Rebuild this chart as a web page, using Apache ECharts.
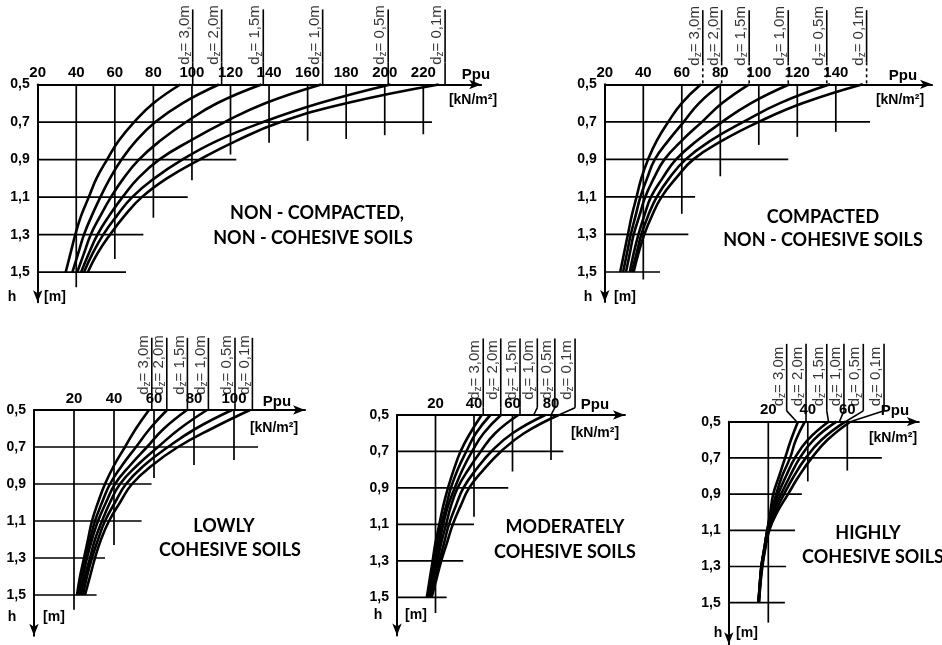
<!DOCTYPE html>
<html><head><meta charset="utf-8">
<script src="https://cdn.jsdelivr.net/npm/echarts@6/dist/echarts.min.js"></script>
<style>html,body{margin:0;padding:0;background:#fff}#c{width:942px;height:645px}</style>
</head><body><div id="c"></div>
<script>
// ---------------- DATA ----------------
const depths = [0.5, 0.6, 0.7, 0.8, 0.9, 1.0, 1.1, 1.2, 1.3, 1.4, 1.5];   // h [m]
const dzNames = ['3,0', '2,0', '1,5', '1,0', '0,5', '0,1'];                // d_z [m]

// Ppu [kN/m2] per curve (d_z = 3.0, 2.0, 1.5, 1.0, 0.5, 0.1) at the depths above
const ppuNonCompacted = [
  [94, 80, 70, 62, 56, 50.5, 46.5, 42.5, 39.5, 37, 34.5],
  [114, 95, 81, 71, 63.5, 57.5, 52.5, 48, 44, 41, 38],
  [136, 113, 97, 83.5, 72.5, 64.5, 58, 52.5, 47.5, 44, 40.5],
  [167, 138, 117, 99, 83, 72, 64, 57, 51, 46.5, 42.5],
  [203, 166, 137, 113, 95, 80.5, 69, 61, 54, 48.5, 44],
  [228, 180, 146, 123, 104, 87, 74, 65, 57.5, 51, 46]
];
const ppuCompacted = [
  [70, 60, 53, 47, 42.5, 39, 36.5, 34, 32, 30, 28],
  [80.5, 69, 61, 53, 46, 42, 38.5, 36, 33.5, 31.5, 29.5],
  [95, 81, 70.5, 60, 51, 45.5, 41, 38, 35, 33, 31],
  [116, 96, 81, 68, 57, 50, 44, 40.5, 37.5, 35, 33],
  [137, 111, 92, 75, 62, 53.5, 47, 42.5, 39, 36.5, 34],
  [154, 123, 100, 81, 66, 57, 49.5, 44.5, 40.5, 37.5, 35]
];
const ppuLowly = [
  [57.5, 51, 45.5, 40, 35.5, 32, 29, 27, 25, 23, 21.5],
  [66.5, 58, 51, 44, 38, 34, 30.5, 28, 25.5, 23.5, 22],
  [76.5, 65, 56.5, 48, 40.5, 36, 32, 29, 26.5, 24.5, 23],
  [86.5, 73, 62, 51.5, 43, 38, 34, 30.5, 28, 25.5, 23.5],
  [99, 81, 67, 55, 46, 40.5, 35.5, 32, 29, 26.5, 24.5],
  [108, 89, 72, 59, 49, 43, 37.5, 33.5, 30.5, 28, 25.5]
];
const ppuModerately = [
  [44, 38, 33, 29.5, 26.5, 24, 22, 20, 18.5, 17, 15.5],
  [48.5, 41, 36, 31.5, 28, 25.5, 23, 21, 19, 17.5, 16],
  [54, 45, 39, 34, 30, 26.5, 24, 22, 20, 18, 16.5],
  [63, 51, 43.5, 37, 31.5, 28, 25.5, 23, 21, 19, 17],
  [77, 60, 49, 41, 34.5, 30.5, 27, 24.5, 22, 19.5, 17.5],
  [84, 66, 54, 45, 37.5, 33, 29, 26, 23, 20.5, 18]
];
const ppuHighly = [
  [35, 31.5, 28.5, 25.5, 22.5, 21, 19.5, 18, 16.5, 15.7, 15],
  [38.5, 34, 31, 27, 24, 21.5, 19.5, 18, 16.5, 15.7, 15],
  [50.5, 40, 33.5, 29, 25, 22, 19.5, 18, 16.5, 15.7, 15],
  [54.5, 43, 36, 31, 26.5, 22.5, 20, 18.2, 16.7, 15.8, 15.1],
  [59, 47, 39, 33, 28, 23.5, 20, 18.3, 16.8, 15.9, 15.2],
  [61.5, 50, 42, 35.5, 30, 24.5, 20.5, 18.5, 17, 16, 15.3]
];

// first / last labelled Ppu tick per panel
const firstTick = [20, 20, 20, 20, 20];
const lastTick = [220, 140, 100, 80, 60];

// partial grid lines: vertical [Ppu, depth reached], horizontal [h, Ppu reached]
const vGrid = [
  [[40,1.58],[60,1.43],[80,1.21],[100,1.01],[120,0.873],[140,0.81],[160,0.80],[180,0.79],[200,0.77],[220,0.765]],
  [[40,1.54],[60,1.19],[80,0.99],[100,0.823],[120,0.78],[140,0.753]],
  [[20,1.58],[40,1.23],[60,0.868],[80,0.797],[100,0.77]],
  [[20,1.586],[40,1.058],[60,0.81],[80,0.747]],
  [[20,1.61],[40,0.83],[60,0.77]]
];
const hGrid = [
  [[0.7,224.5],[0.9,123],[1.1,97.8],[1.3,74.8],[1.5,65.8]],
  [[0.7,157.8],[0.9,115.3],[1.1,66.9],[1.3,63.4],[1.5,48.7]],
  [[0.7,112],[0.9,58.8],[1.1,53.8],[1.3,35.5],[1.5,31.3]],
  [[0.7,86.4],[0.9,57.8],[1.1,40],[1.3,34.4],[1.5,25.8]],
  [[0.7,77.5],[0.9,37],[1.1,33.5],[1.3,29],[1.5,28.4]]
];
// d_z leader lines: Ppu of the label line, Ppu where it meets the axis
const leaderX = [
  [100.4, 115.4, 137, 167.8, 201.8, 231.3],
  [70.9, 80.7, 95, 115.3, 135.3, 156],
  [58.9, 66.4, 76.7, 87.2, 100.5, 109.2],
  [44.8, 53.9, 63.9, 72.9, 82, 92.5],
  [29.3, 39.1, 49.6, 58.3, 68.1, 78.6]
];
const leaderFoot = [
  [100.4, 115.4, 137, 167.8, 201.8, 231.3],
  [70.9, 80.7, 95, 115.3, 135.3, 156],
  [58.9, 66.4, 76.7, 87.2, 100.5, 109.2],
  [44.8, 53.9, 63.9, 71, 80, 84],
  [34.4, 39.1, 50.5, 56, 59, 61.5]
];
const titles = [
  ['NON - COMPACTED,', 'NON - COHESIVE SOILS'],
  ['COMPACTED', 'NON - COHESIVE SOILS'],
  ['LOWLY', 'COHESIVE SOILS'],
  ['MODERATELY', 'COHESIVE SOILS'],
  ['HIGHLY', 'COHESIVE SOILS']
];
const panelData = [ppuNonCompacted, ppuCompacted, ppuLowly, ppuModerately, ppuHighly];

// ---------------- LAYOUT ----------------
const layout = [
  {left:37.7, top:84.5, xmin:20, xmax:250, pxX:1.928, ymax:1.66, pxY:187.7, top1:0.40, lab:0.264, bend:0.117, dashLow:false,
   title:[317,213,313,238], ppu:[476,75], kn:[473,100], h:[12,297], m:[55,297]},
  {left:604.8, top:84.3, xmin:20, xmax:190, pxX:1.925, ymax:1.66, pxY:187.7, top1:0.395, lab:0.258, bend:0.117, dashLow:true,
   title:[823,217,823,240], ppu:[903,76], kn:[900,100], h:[588,297], m:[625,297]},
  {left:34, top:410, xmin:0, xmax:135.5, pxX:2.0, ymax:1.72, pxY:185, top1:0.39, lab:0.243, bend:0.06, dashLow:false,
   title:[224,526,230,550], ppu:[277,402], kn:[274,428], h:[12,617], m:[54,617]},
  {left:397, top:415, xmin:0, xmax:118.4, pxX:1.925, ymax:1.71, pxY:182.3, top1:0.42, lab:0.247, bend:0.04, dashLow:false,
   title:[565,527,565,552], ppu:[595,405], kn:[595,433], h:[378,615], m:[416,615]},
  {left:728.8, top:421.7, xmin:0, xmax:96.2, pxX:1.975, ymax:1.73, pxY:181, top1:0.43, lab:0.25, bend:0.06, dashLow:false,
   title:[868,533,873,557], ppu:[895,411], kn:[893,438], h:[718,633], m:[747,633]}
];

const AXIS_FONT = '"Liberation Sans", Arial, sans-serif';
const TITLE_FONT = 'bold 18px Lato, "Open Sans", sans-serif';
const grids = [], xAxes = [], yAxes = [], series = [], graphics = [];

function txt(x, y, text, font) {
  return {type:'text', x, y, silent:true, style:{text, font, fill:'#000', textAlign:'center', textVerticalAlign:'middle'}};
}

layout.forEach((L, p) => {
  grids.push({left:L.left, top:L.top, width:(L.xmax-L.xmin)*L.pxX, height:(L.ymax-0.5)*L.pxY, containLabel:false});
  const lineStyle = {color:'#000', width:2};
  xAxes.push({
    gridIndex:p, type:'value', position:'top', min:L.xmin, max:L.xmax, interval:20,
    axisLine:{show:true, onZero:false, symbol:['none','arrow'], symbolSize:[7,12], lineStyle},
    axisTick:{show:false}, splitLine:{show:false},
    axisLabel:{margin:4, color:'#000', fontSize:15, fontWeight:'bold', fontFamily:AXIS_FONT,
      formatter:v => {const r = Math.round(v); return (Math.abs(v-r)<1e-6 && r%20===0 && r>=firstTick[p] && r<=lastTick[p]) ? String(r) : '';}}
  });
  yAxes.push({
    gridIndex:p, type:'value', inverse:true, min:0.5, max:L.ymax, interval:0.1,
    axisLine:{show:true, onZero:false, symbol:['arrow','none'], symbolSize:[7,12], lineStyle},
    axisTick:{show:false}, splitLine:{show:false},
    axisLabel:{margin:8, color:'#000', fontSize:14, fontWeight:'bold', fontFamily:AXIS_FONT,
      formatter:v => {const k = Math.round(v*10); if (Math.abs(v*10-k)>1e-6) return ''; return (k%2===1 && k<=15) ? (k/10).toFixed(1).replace('.', ',') : '';}}
  });
  // partial grid lines
  const gl = [];
  vGrid[p].forEach(([x, end]) => gl.push({coords:[[x, 0.5], [x, end]]}));
  hGrid[p].forEach(([h, end]) => gl.push({coords:[[L.xmin, h], [end, h]]}));
  series.push({type:'lines', coordinateSystem:'cartesian2d', xAxisIndex:p, yAxisIndex:p, polyline:true, silent:true,
    clip:false, data:gl, lineStyle:{color:'#000', width:1.7, opacity:1}});
  // leaders
  const up = [], low = [];
  leaderX[p].forEach((x, i) => {
    up.push({coords:[[x, 0.5 - L.top1], [x, 0.5 - L.bend]]});
    low.push({coords:[[x, 0.5 - L.bend], [leaderFoot[p][i], 0.5]]});
  });
  series.push({type:'lines', coordinateSystem:'cartesian2d', xAxisIndex:p, yAxisIndex:p, polyline:true, silent:true,
    clip:false, data:up, lineStyle:{color:'#000', width:1.6, opacity:1}});
  series.push({type:'lines', coordinateSystem:'cartesian2d', xAxisIndex:p, yAxisIndex:p, polyline:true, silent:true,
    clip:false, data:low, lineStyle:{color:'#000', width:1.6, opacity:1, type: L.dashLow ? [3,3] : 'solid'}});
  // leader labels
  series.push({type:'scatter', xAxisIndex:p, yAxisIndex:p, clip:false, silent:true, symbolSize:1,
    itemStyle:{color:'rgba(0,0,0,0)'},
    data:leaderX[p].map((x, i) => ({value:[x, 0.5 - L.lab], name:dzNames[i]})),
    label:{show:true, position:'inside', rotate:90, offset:[0, -8], color:'#000',
      formatter:d => '{a|d}{s|z}{a|= ' + d.name + 'm}',
      rich:{a:{fontSize:15, fontFamily:AXIS_FONT, color:'#000', lineHeight:17},
            s:{fontSize:10, fontFamily:AXIS_FONT, color:'#000', lineHeight:17, verticalAlign:'bottom', padding:[6,0,0,0]}}}});
  // curves
  panelData[p].forEach((vals, i) => {
    series.push({type:'line', xAxisIndex:p, yAxisIndex:p, name:'dz=' + dzNames[i], smooth:0.45, showSymbol:false,
      silent:true, clip:false, lineStyle:{color:'#000', width:2.6},
      data:depths.map((h, k) => [vals[k], h])});
  });
  // texts
  const t = L.title;
  graphics.push(txt(t[0], t[1], titles[p][0], TITLE_FONT));
  graphics.push(txt(t[2], t[3], titles[p][1], TITLE_FONT));
  graphics.push(txt(L.ppu[0], L.ppu[1], 'Ppu', 'bold 15px ' + AXIS_FONT));
  graphics.push(txt(L.kn[0], L.kn[1], '[kN/m²]', 'bold 14px ' + AXIS_FONT));
  graphics.push(txt(L.h[0], L.h[1], 'h', 'bold 14px ' + AXIS_FONT));
  graphics.push(txt(L.m[0], L.m[1], '[m]', 'bold 14px ' + AXIS_FONT));
});

const chart = echarts.init(document.getElementById('c'), null, {renderer:'canvas'});
chart.setOption({
  backgroundColor:'#fff', animation:false,
  grid:grids, xAxis:xAxes, yAxis:yAxes, series, graphic:graphics
});
</script></body></html>
